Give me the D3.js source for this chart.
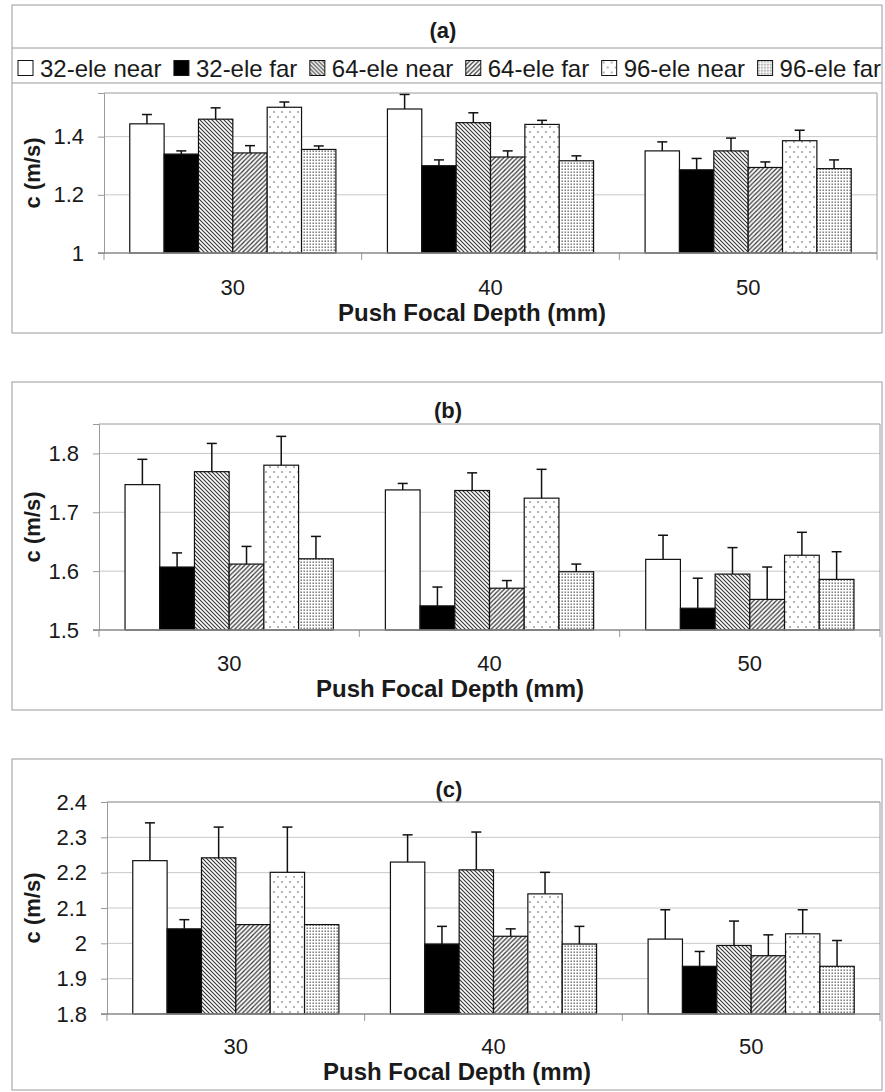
<!DOCTYPE html>
<html>
<head>
<meta charset="utf-8">
<script src="https://cdn.jsdelivr.net/npm/d3@7"></script>
<style>
  body { margin: 0; background: #fff; }
  text { font-family: "Liberation Sans", Arial, sans-serif; fill: #1a1a1a; }
</style>
</head>
<body>
<svg id="chart" width="885" height="1092"></svg>
<script>
// ---------------- data ----------------
const categories = ["30", "40", "50"];
const seriesNames = ["32-ele near", "32-ele far", "64-ele near", "64-ele far", "96-ele near", "96-ele far"];

// panel (a): one row per push depth, one value per series
const meansA = [[1.444, 1.340, 1.460, 1.344, 1.501, 1.356],
                [1.495, 1.300, 1.448, 1.330, 1.442, 1.317],
                [1.351, 1.286, 1.351, 1.294, 1.386, 1.290]];
const errsA  = [[0.032, 0.011, 0.039, 0.025, 0.018, 0.012],
                [0.050, 0.020, 0.034, 0.021, 0.014, 0.017],
                [0.031, 0.039, 0.044, 0.019, 0.036, 0.030]];

// panel (b)
const meansB = [[1.747, 1.607, 1.769, 1.612, 1.780, 1.621],
                [1.738, 1.541, 1.737, 1.571, 1.724, 1.599],
                [1.620, 1.537, 1.595, 1.552, 1.627, 1.586]];
const errsB  = [[0.043, 0.024, 0.048, 0.030, 0.049, 0.038],
                [0.011, 0.032, 0.030, 0.013, 0.049, 0.013],
                [0.041, 0.051, 0.045, 0.055, 0.039, 0.047]];

// panel (c)
const meansC = [[2.234, 2.041, 2.242, 2.053, 2.201, 2.053],
                [2.230, 1.998, 2.208, 2.020, 2.140, 1.998],
                [2.012, 1.935, 1.994, 1.965, 2.027, 1.935]];
const errsC  = [[0.107, 0.026, 0.087, 0, 0.128, 0],
                [0.077, 0.050, 0.107, 0.021, 0.061, 0.050],
                [0.083, 0.042, 0.069, 0.059, 0.068, 0.073]];

const ticksA = [1, 1.2, 1.4];
const tickLabelsA = ["1", "1.2", "1.4"];
const ticksB = [1.5, 1.6, 1.7, 1.8];
const tickLabelsB = ["1.5", "1.6", "1.7", "1.8"];
const ticksC = [1.8, 1.9, 2.0, 2.1, 2.2, 2.3, 2.4];
const tickLabelsC = ["1.8", "1.9", "2", "2.1", "2.2", "2.3", "2.4"];

const yLabel = "c (m/s)";
const xLabel = "Push Focal Depth (mm)";

// ---------------- styles ----------------
const fills = ["#fff", "#000", "url(#p64near)", "url(#p64far)", "url(#p96near)", "url(#p96far)"];
const gridCol = "#c8c8c8", frameCol = "#9a9a9a";

const svg = d3.select("#chart");
const defs = svg.append("defs");

function pat(id, w, h) {
  const p = defs.append("pattern").attr("id", id)
    .attr("patternUnits", "userSpaceOnUse").attr("width", w).attr("height", h);
  p.append("rect").attr("width", w).attr("height", h).attr("fill", "#fff");
  return p;
}
pat("p64near", 4, 4).append("path")
  .attr("d", "M0,0L4,4M-1,3L1,5M3,-1L5,1")
  .attr("stroke", "#333").attr("stroke-width", 1.1);
pat("p64far", 4.5, 4.5).append("path")
  .attr("d", "M0,4.5L4.5,0M-1,1L1,-1M3.5,5.5L5.5,3.5")
  .attr("stroke", "#333").attr("stroke-width", 1.2);
const p96n = pat("p96near", 8, 10);
p96n.append("circle").attr("cx", 2).attr("cy", 2).attr("r", 0.8).attr("fill", "#555");
p96n.append("circle").attr("cx", 6).attr("cy", 7).attr("r", 0.8).attr("fill", "#555");
const p96f = pat("p96far", 3, 3);
p96f.append("rect").attr("x", 0.5).attr("y", 0.5).attr("width", 1.4).attr("height", 1.4).attr("fill", "#666");

// ---------------- panels ----------------
function drawPanel(cfg) {
  const g = svg.append("g");
  const [bx0, by0, bx1, by1] = cfg.box;
  g.append("rect").attr("x", bx0).attr("y", by0)
    .attr("width", bx1 - bx0).attr("height", by1 - by0)
    .attr("fill", "none").attr("stroke", frameCol);

  g.append("text").attr("x", cfg.titleX).attr("y", cfg.titleY)
    .attr("text-anchor", "middle").attr("font-size", 22).attr("font-weight", "bold")
    .text(cfg.title);

  const [px0, py0, px1, py1] = cfg.plot;
  const x = d3.scaleBand().domain(categories).range([px0, px1]).padding(0);
  const xs = d3.scaleBand().domain(seriesNames)
    .range([x.bandwidth() * 0.1, x.bandwidth() * 0.9]).padding(0);
  const y = d3.scaleLinear().domain(cfg.domain).range([py1, py0]);

  // gridlines
  g.append("g").selectAll("line").data(cfg.ticks.slice(1)).join("line")
    .attr("x1", px0).attr("x2", px1)
    .attr("y1", d => y(d)).attr("y2", d => y(d))
    .attr("stroke", gridCol);

  // plot frame
  g.append("path")
    .attr("d", `M${px0},${py0}H${px1}V${py1}`)
    .attr("fill", "none").attr("stroke", frameCol);

  // bars
  const rows = [];
  categories.forEach((c, i) => seriesNames.forEach((s, j) => {
    rows.push({ c, s, j, v: cfg.means[i][j], e: cfg.errs[i][j] });
  }));

  g.append("g").selectAll("rect").data(rows).join("rect")
    .attr("x", d => x(d.c) + xs(d.s))
    .attr("y", d => y(d.v))
    .attr("width", xs.bandwidth())
    .attr("height", d => y(cfg.domain[0]) - y(d.v))
    .attr("fill", d => fills[d.j])
    .attr("stroke", "#111").attr("stroke-width", 1.2);

  // error bars (upper only)
  const eb = g.append("g").selectAll("g").data(rows.filter(d => d.e > 0)).join("g")
    .attr("stroke", "#111").attr("stroke-width", 1.5);
  eb.append("line")
    .attr("x1", d => x(d.c) + xs(d.s) + xs.bandwidth() / 2)
    .attr("x2", d => x(d.c) + xs(d.s) + xs.bandwidth() / 2)
    .attr("y1", d => y(d.v)).attr("y2", d => y(d.v + d.e));
  eb.append("line")
    .attr("x1", d => x(d.c) + xs(d.s) + xs.bandwidth() / 2 - 5)
    .attr("x2", d => x(d.c) + xs(d.s) + xs.bandwidth() / 2 + 5)
    .attr("y1", d => y(d.v + d.e)).attr("y2", d => y(d.v + d.e));

  // y axis
  const ya = g.append("g").attr("transform", `translate(${px0},0)`)
    .call(d3.axisLeft(y).tickValues(cfg.ticks)
      .tickFormat((d, i) => cfg.tickLabels[i]).tickSize(6).tickPadding(14));
  ya.select(".domain").attr("stroke", frameCol);
  ya.selectAll(".tick line").attr("stroke", frameCol);
  ya.selectAll("text").attr("font-size", 22).attr("font-family", null).attr("fill", "#1a1a1a");

  // x axis
  const xa = g.append("g").attr("transform", `translate(0,${py1})`)
    .call(d3.axisBottom(x).tickSize(0).tickPadding(0));
  xa.select(".domain").remove();
  xa.selectAll("text").attr("font-size", 22).attr("font-family", null)
    .attr("fill", "#1a1a1a").attr("dy", null).attr("y", cfg.catY - py1);
  g.append("g").selectAll("line").data([...categories.map(c => x(c)), px1]).join("line")
    .attr("x1", d => d).attr("x2", d => d)
    .attr("y1", py1).attr("y2", py1 + 7).attr("stroke", frameCol);
  g.append("line").attr("x1", px0 - 6).attr("x2", px1)
    .attr("y1", py1).attr("y2", py1).attr("stroke", "#8a8a8a").attr("stroke-width", 1.3);

  // axis titles
  g.append("text").attr("x", cfg.xTitleX).attr("y", cfg.xTitleY)
    .attr("text-anchor", "middle").attr("font-size", 24).attr("font-weight", "bold")
    .text(xLabel);
  g.append("text")
    .attr("transform", `translate(${cfg.yTitleX},${(py0 + py1) / 2}) rotate(-90)`)
    .attr("text-anchor", "middle").attr("dy", "0.35em")
    .attr("font-size", 22).attr("font-weight", "bold")
    .text(yLabel);
  return g;
}

const gA = drawPanel({
  box: [12, 5, 882, 333], title: "(a)", titleX: 443, titleY: 38,
  plot: [104, 93, 877, 253], domain: [1, 1.55],
  ticks: ticksA, tickLabels: tickLabelsA, means: meansA, errs: errsA,
  catY: 295, xTitleX: 472, xTitleY: 321, yTitleX: 32
});
drawPanel({
  box: [12, 382, 882, 710], title: "(b)", titleX: 448, titleY: 418,
  plot: [99, 424, 880, 630], domain: [1.5, 1.85],
  ticks: ticksB, tickLabels: tickLabelsB, means: meansB, errs: errsB,
  catY: 671, xTitleX: 450, xTitleY: 697, yTitleX: 32
});
drawPanel({
  box: [12, 759, 882, 1090], title: "(c)", titleX: 449, titleY: 797,
  plot: [107, 802, 880, 1014], domain: [1.8, 2.4],
  ticks: ticksC, tickLabels: tickLabelsC, means: meansC, errs: errsC,
  catY: 1054, xTitleX: 457, xTitleY: 1080, yTitleX: 32
});

// legend row of panel (a)
gA.append("line").attr("x1", 12).attr("x2", 882).attr("y1", 48).attr("y2", 48).attr("stroke", frameCol);
gA.append("line").attr("x1", 12).attr("x2", 882).attr("y1", 83).attr("y2", 83).attr("stroke", frameCol);

const leg = gA.append("g");
const items = leg.selectAll("g").data(seriesNames).join("g");
items.append("rect").attr("width", 15).attr("height", 15)
  .attr("fill", (d, i) => fills[i]).attr("stroke", "#111").attr("stroke-width", 1);
items.append("text").attr("x", 22).attr("y", 7.5).attr("dy", "0.36em")
  .attr("font-size", 24).text(d => d);
const widths = [];
items.select("text").each(function () { widths.push(this.getComputedTextLength()); });
const legStart = 18, legEnd = 881;
const gap = (legEnd - legStart - d3.sum(widths) - 22 * widths.length) / (widths.length - 1);
let cx = legStart;
items.attr("transform", (d, i) => {
  const t = `translate(${cx},${68 - 7.5})`;
  cx += 22 + widths[i] + gap;
  return t;
});
</script>
</body>
</html>
